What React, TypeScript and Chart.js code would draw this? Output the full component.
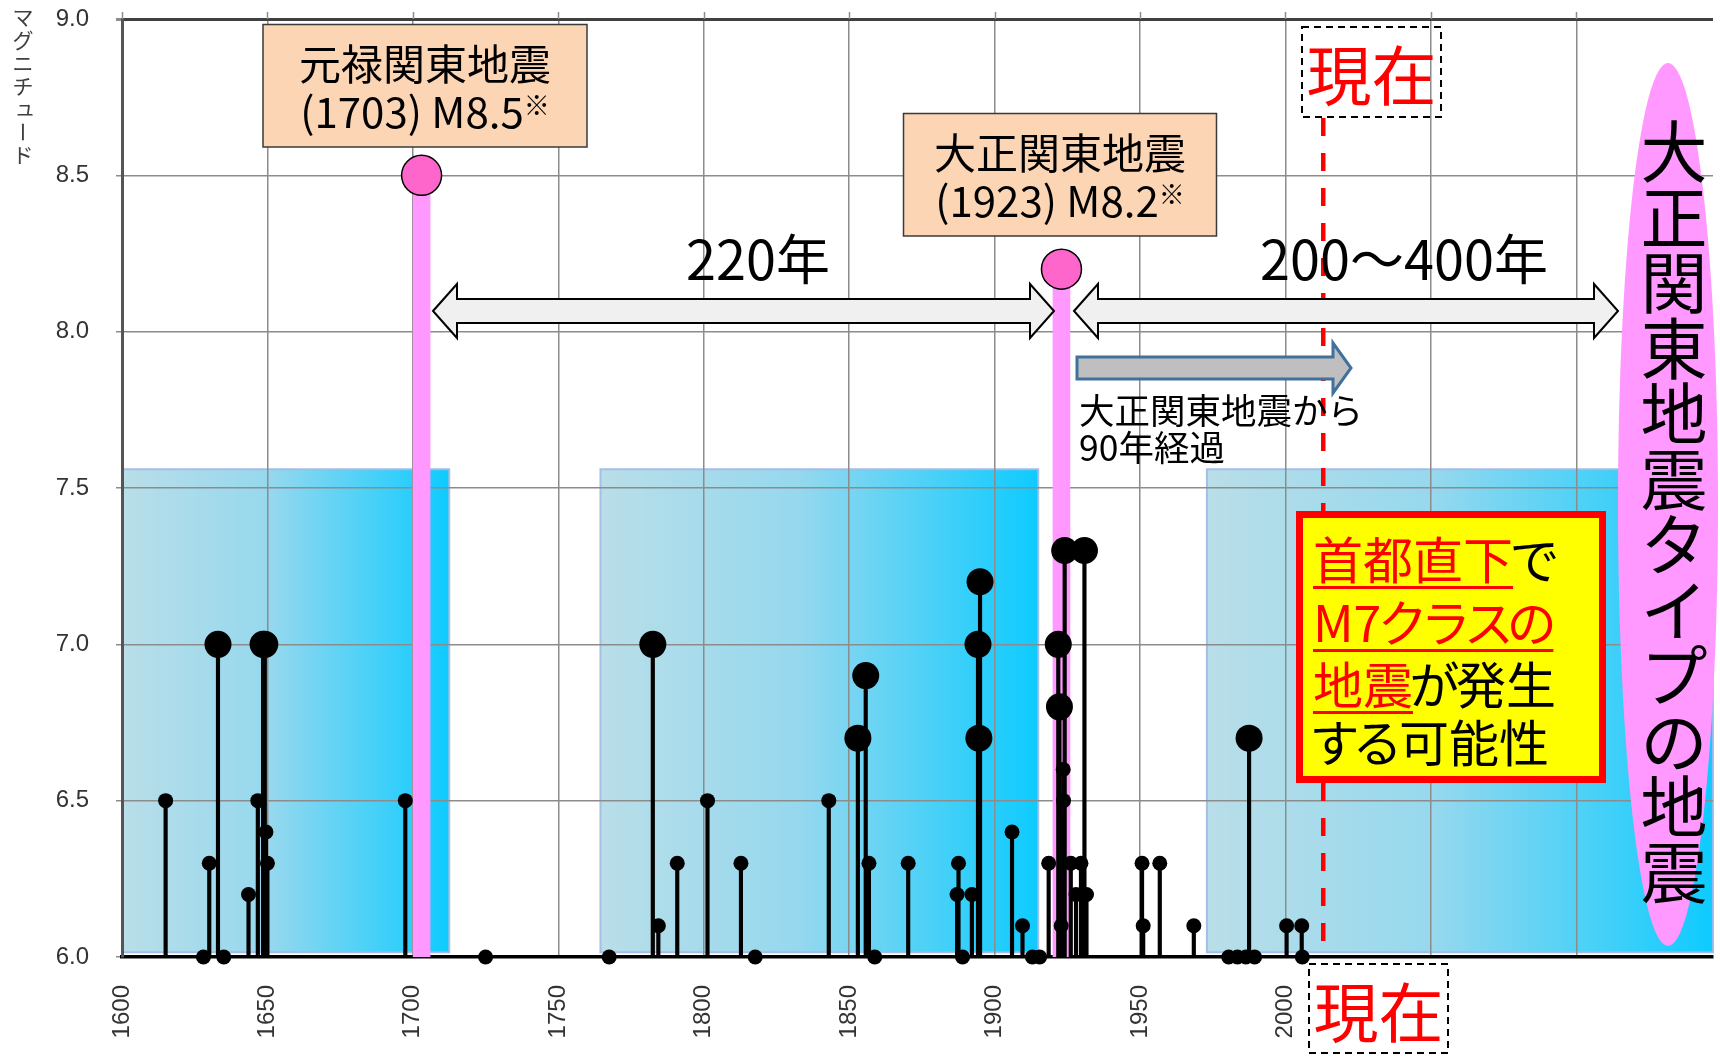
import React, { useEffect, useRef } from 'react';
import { Chart, registerables } from 'chart.js';

Chart.register(...registerables);

// ---------------- data ----------------
const quakeYears = [
  1615, 1628, 1630, 1633, 1635, 1643.5, 1646.7, 1648.5, 1649.1, 1649.5, 1650, 1697.4, 1725,
  1767.5, 1782.5, 1784.4, 1790.9, 1801.3, 1812.8, 1817.7, 1843, 1853, 1855.7, 1856.8, 1858.8, 1870.3,
  1887.1, 1887.6, 1889, 1892.2, 1894.3, 1894.6, 1895, 1906, 1909.6, 1913, 1915.5, 1918.6,
  1921.9, 1922.3, 1922.9, 1923.6, 1923.7, 1924.1, 1926.2, 1928, 1929.7, 1930.9, 1931.6,
  1950.7, 1951.1, 1956.8, 1968.5, 1980.5, 1983.5, 1986.4, 1987.5, 1989.4, 2000.4, 2005.6, 2005.8,
];
const quakeMagnitudes = [
  6.5, 6.0, 6.3, 7.0, 6.0, 6.2, 6.5, 7.0, 7.0, 6.4, 6.3, 6.5, 6.0,
  6.0, 7.0, 6.1, 6.3, 6.5, 6.3, 6.0, 6.5, 6.7, 6.9, 6.3, 6.0, 6.3,
  6.2, 6.3, 6.0, 6.2, 7.0, 6.7, 7.2, 6.4, 6.1, 6.0, 6.0, 6.3,
  7.0, 6.8, 6.1, 6.6, 6.5, 7.3, 6.3, 6.2, 6.3, 7.3, 6.2,
  6.3, 6.1, 6.3, 6.1, 6.0, 6.0, 6.0, 6.7, 6.0, 6.1, 6.1, 6.0,
];
const kantoYears = [1703, 1923];
const kantoMagnitudes = [8.5, 8.2];
const kantoNames = ['元禄関東地震', '大正関東地震'];
const kantoLabels = ['(1703) M8.5', '(1923) M8.2'];

const activeStarts = [1600, 1764.5, 1973];
const activeEnds = [1712.5, 1915, 2147];
const activeTop = 7.56;
const activeBottom = 6.015;

const nowYear = 2013;
const xMin = 1600;
const xMax = 2147;
const xStep = 50;
const xLastLabel = 2000;
const yMin = 6;
const yMax = 9;
const yStep = 0.5;

const yTitle = 'マグニチュード';
const intervalPast = '220年';
const intervalFuture = '200～400年';
const elapsedLines = ['大正関東地震から', '90年経過'];
const nowLabel = '現在';
const ellipseText = '大正関東地震タイプの地震';

// ---------------- styles ----------------
const JP = "'Noto Sans CJK JP', 'Noto Sans', sans-serif";
const NUM = "'Liberation Sans', Arial, sans-serif";
const GRID = '#8c8c8c';

const KANA = /[\u3040-\u30ff]/;

function drawRun(ctx: CanvasRenderingContext2D, text: string, x: number, y: number, kanaFactor: number) {
  for (const ch of Array.from(text)) {
    const w = ctx.measureText(ch).width;
    const adv = KANA.test(ch) ? w * kanaFactor : w;
    ctx.fillText(ch, x + (adv - w) / 2, y);
    x += adv;
  }
  return x;
}

function arrowShape(ctx: CanvasRenderingContext2D, x1: number, x2: number, yc: number, bodyH: number, headH: number, headL: number, left: boolean) {
  const b = bodyH / 2;
  const h = headH / 2;
  ctx.beginPath();
  if (left) {
    ctx.moveTo(x1, yc);
    ctx.lineTo(x1 + headL, yc - h);
    ctx.lineTo(x1 + headL, yc - b);
  } else {
    ctx.moveTo(x1, yc - b);
  }
  ctx.lineTo(x2 - headL, yc - b);
  ctx.lineTo(x2 - headL, yc - h);
  ctx.lineTo(x2, yc);
  ctx.lineTo(x2 - headL, yc + h);
  ctx.lineTo(x2 - headL, yc + b);
  if (left) {
    ctx.lineTo(x1 + headL, yc + b);
    ctx.lineTo(x1 + headL, yc + h);
  } else {
    ctx.lineTo(x1, yc + b);
  }
  ctx.closePath();
  ctx.fill();
  ctx.stroke();
}

const boxesPlugin = {
  id: 'activeBoxes',
  beforeDraw(chart: any) {
    const { ctx } = chart;
    const xs = chart.scales.x;
    const ys = chart.scales.y;
    ctx.save();
    activeStarts.forEach((s, i) => {
      const x0 = xs.getPixelForValue(s);
      const x1 = xs.getPixelForValue(activeEnds[i]);
      const y0 = ys.getPixelForValue(activeTop);
      const y1 = ys.getPixelForValue(activeBottom);
      const g = ctx.createLinearGradient(x0, 0, x1, 0);
      g.addColorStop(0, 'rgb(185,222,232)');
      g.addColorStop(0.45, 'rgb(150,216,238)');
      g.addColorStop(1, 'rgb(14,203,255)');
      ctx.fillStyle = g;
      ctx.fillRect(x0, y0, x1 - x0, y1 - y0);
      ctx.strokeStyle = 'rgba(160,185,230,0.9)';
      ctx.lineWidth = 2;
      ctx.strokeRect(x0, y0, x1 - x0, y1 - y0);
    });
    ctx.restore();
  },
};

const annotationPlugin = {
  id: 'annotations',
  afterDraw(chart: any) {
    const { ctx, chartArea } = chart;
    const xs = chart.scales.x;
    const X = (v: number) => xs.getPixelForValue(v);
    ctx.save();

    // small tick marks above top border
    ctx.strokeStyle = GRID;
    ctx.lineWidth = 1.5;
    for (let v = xMin; v <= 2100; v += xStep) {
      const px = Math.round(X(v)) + 0.5;
      ctx.beginPath();
      ctx.moveTo(px, chartArea.top - 7);
      ctx.lineTo(px, chartArea.top);
      ctx.stroke();
    }

    // red dashed "now" line
    ctx.strokeStyle = '#ff0000';
    ctx.lineWidth = 4.5;
    ctx.setLineDash([18, 17]);
    ctx.beginPath();
    ctx.moveTo(X(nowYear), 118);
    ctx.lineTo(X(nowYear), chartArea.bottom - 3);
    ctx.stroke();
    ctx.setLineDash([]);

    // double arrows
    ctx.fillStyle = '#f0f0f0';
    ctx.strokeStyle = '#000';
    ctx.lineWidth = 2;
    ctx.lineJoin = 'miter';
    arrowShape(ctx, 433, 1054, 311, 24, 54, 24, true);
    arrowShape(ctx, 1074, 1618, 311, 24, 54, 24, true);

    // gray elapsed arrow
    ctx.fillStyle = '#bfbfbf';
    ctx.strokeStyle = '#41719c';
    ctx.lineWidth = 3;
    arrowShape(ctx, 1077, 1351, 368, 22, 50, 18, false);

    // interval texts
    ctx.fillStyle = '#000';
    ctx.textBaseline = 'middle';
    ctx.textAlign = 'center';
    ctx.font = `54px ${JP}`;
    ctx.fillText(intervalPast, 758, 259);
    ctx.fillText(intervalFuture, 1404, 259);

    ctx.textAlign = 'left';
    ctx.font = `35.5px ${JP}`;
    ctx.fillText(elapsedLines[0], 1079, 411);
    ctx.fillText(elapsedLines[1], 1079, 448);

    // name boxes
    const boxes = [
      { x: 263, y: 24.5, w: 324, h: 122.5 },
      { x: 903.5, y: 113.5, w: 313, h: 122.5 },
    ];
    boxes.forEach((b, i) => {
      ctx.fillStyle = '#fcd5b4';
      ctx.fillRect(b.x, b.y, b.w, b.h);
      ctx.strokeStyle = '#3a3a3a';
      ctx.lineWidth = 1.5;
      ctx.strokeRect(b.x, b.y, b.w, b.h);
      const cx = b.x + b.w / 2;
      ctx.fillStyle = '#000';
      ctx.textAlign = 'center';
      ctx.textBaseline = 'middle';
      ctx.font = `42px ${JP}`;
      ctx.fillText(kantoNames[i], cx, b.y + 40);
      const w1 = ctx.measureText(kantoLabels[i]).width;
      ctx.font = `26px ${JP}`;
      const w2 = ctx.measureText('※').width;
      const sx = cx - (w1 + w2) / 2;
      ctx.textAlign = 'left';
      ctx.font = `42px ${JP}`;
      ctx.fillText(kantoLabels[i], sx, b.y + 88);
      ctx.font = `26px ${JP}`;
      ctx.textBaseline = 'top';
      ctx.fillText('※', sx + w1, b.y + 68);
    });

    // "now" dashed boxes
    ctx.setLineDash([7, 5]);
    ctx.strokeStyle = '#000';
    ctx.lineWidth = 2;
    ctx.strokeRect(1302, 27, 139, 90);
    ctx.strokeRect(1309, 964, 139, 89);
    ctx.setLineDash([]);
    ctx.fillStyle = '#ff0000';
    ctx.font = `65px ${JP}`;
    ctx.textAlign = 'center';
    ctx.textBaseline = 'middle';
    ctx.fillText(nowLabel, 1371.5, 75);
    ctx.fillText(nowLabel, 1378.5, 1012);

    // yellow box
    ctx.fillStyle = '#ffff00';
    ctx.fillRect(1299.5, 514.5, 303, 265);
    ctx.strokeStyle = '#ff0000';
    ctx.lineWidth = 7;
    ctx.strokeRect(1299.5, 514.5, 303, 265);
    const RED = '#ff0000';
    const lines: { t: string; red: boolean }[][] = [
      [{ t: '首都直下', red: true }, { t: 'で', red: false }],
      [{ t: 'M7クラスの', red: true }],
      [{ t: '地震', red: true }, { t: 'が発生', red: false }],
      [{ t: 'する可能性', red: false }],
    ];
    const lineY = [560, 623, 685, 743];
    ctx.font = `50px ${JP}`;
    ctx.textAlign = 'left';
    ctx.textBaseline = 'middle';
    lines.forEach((runs, li) => {
      let x = 1313;
      runs.forEach((r) => {
        ctx.fillStyle = r.red ? RED : '#000';
        const x0 = x;
        x = drawRun(ctx, r.t, x, lineY[li], 0.86);
        if (r.red) {
          ctx.fillRect(x0, lineY[li] + 26, x - x0, 3);
        }
      });
    });

    // pink ellipse with vertical text
    ctx.fillStyle = '#ff99ff';
    ctx.beginPath();
    ctx.ellipse(1668, 504.5, 50, 441.5, 0, 0, Math.PI * 2);
    ctx.fill();
    ctx.fillStyle = '#000';
    ctx.font = `67px ${JP}`;
    ctx.textAlign = 'center';
    ctx.textBaseline = 'middle';
    Array.from(ellipseText).forEach((ch, i) => {
      ctx.fillText(ch, 1674, 152 + i * 65.5);
    });

    // vertical y-axis title
    ctx.fillStyle = '#404040';
    ctx.font = `21px ${JP}`;
    Array.from(yTitle).forEach((ch, i) => {
      const cy = 17 + i * 23;
      if (ch === 'ー') {
        ctx.save();
        ctx.translate(23, cy);
        ctx.rotate(Math.PI / 2);
        ctx.fillText(ch, 0, 0);
        ctx.restore();
      } else if (ch === 'ュ') {
        ctx.fillText(ch, 25, cy - 2);
      } else {
        ctx.fillText(ch, 23, cy);
      }
    });

    ctx.restore();
  },
};

export default function App() {
  const ref = useRef<HTMLCanvasElement>(null);
  useEffect(() => {
    const canvas = ref.current;
    if (!canvas) return;
    const chart = new Chart(canvas, {
      type: 'scatter',
      data: {
        datasets: [
          {
            type: 'scatter',
            label: 'kanto',
            data: kantoYears.map((x, i) => ({ x, y: kantoMagnitudes[i] })),
            pointRadius: 20,
            pointBackgroundColor: '#ff66cc',
            pointBorderColor: '#000',
            pointBorderWidth: 1.5,
            clip: false,
            order: 1,
          } as any,
          {
            type: 'scatter',
            label: 'quakes',
            data: quakeYears.map((x, i) => ({ x, y: quakeMagnitudes[i] })),
            pointRadius: (c: any) => (quakeMagnitudes[c.dataIndex] >= 6.7 ? 13.5 : 7.5),
            pointBackgroundColor: '#000',
            pointBorderWidth: 0,
            clip: false,
            order: 2,
          } as any,
          {
            type: 'bar',
            label: 'stems',
            data: quakeYears.map((x, i) => ({ x, y: [yMin, quakeMagnitudes[i]] })),
            backgroundColor: '#000',
            barThickness: 3.5,
            grouped: false,
            order: 3,
          } as any,
          {
            type: 'bar',
            label: 'kantoBars',
            data: kantoYears.map((x, i) => ({ x, y: [yMin, kantoMagnitudes[i]] })),
            backgroundColor: '#ff99ff',
            barThickness: 17,
            grouped: false,
            order: 4,
          } as any,
        ],
      },
      options: {
        responsive: false,
        animation: false,
        events: [],
        layout: { autoPadding: false, padding: { left: 0, top: 19, right: 7, bottom: 0 } },
        plugins: { legend: { display: false }, tooltip: { enabled: false } },
        scales: {
          x: {
            type: 'linear',
            min: xMin,
            max: xMax,
            offset: false,
            grid: { color: GRID, lineWidth: 1.5, drawTicks: false, offset: false },
            border: { color: '#000', width: 3.5 },
            ticks: {
              stepSize: xStep,
              includeBounds: false,
              autoSkip: false,
              minRotation: 90,
              maxRotation: 90,
              padding: 28,
              color: '#333',
              font: { family: NUM, size: 24 },
              callback: (v: any) => (Number(v) <= xLastLabel ? String(v) : ''),
            },
            afterFit: (s: any) => {
              s.height = 100;
              s.paddingLeft = 0;
              s.paddingRight = 0;
            },
          },
          y: {
            type: 'linear',
            min: yMin,
            max: yMax,
            grid: {
              color: (c: any) => (c.tick && c.tick.value === yMax ? '#404040' : GRID),
              lineWidth: (c: any) => (c.tick && c.tick.value === yMax ? 3 : 1.5),
              drawTicks: true,
              tickLength: 6,
              tickColor: GRID,
            },
            border: { color: '#555', width: 3 },
            ticks: {
              stepSize: yStep,
              padding: 27,
              color: '#333',
              font: { family: NUM, size: 24 },
              callback: (v: any) => Number(v).toFixed(1),
            },
            afterFit: (s: any) => {
              s.width = 122;
              s.paddingTop = 0;
              s.paddingBottom = 0;
            },
          },
        },
      } as any,
      plugins: [boxesPlugin, annotationPlugin],
    });
    return () => chart.destroy();
  }, []);
  return (
    <div style={{ position: 'fixed', left: 0, top: 0, width: 1720, height: 1057, background: '#fff' }}>
      <canvas ref={ref} width={1720} height={1057} style={{ width: 1720, height: 1057, display: 'block' }} />
    </div>
  );
}
